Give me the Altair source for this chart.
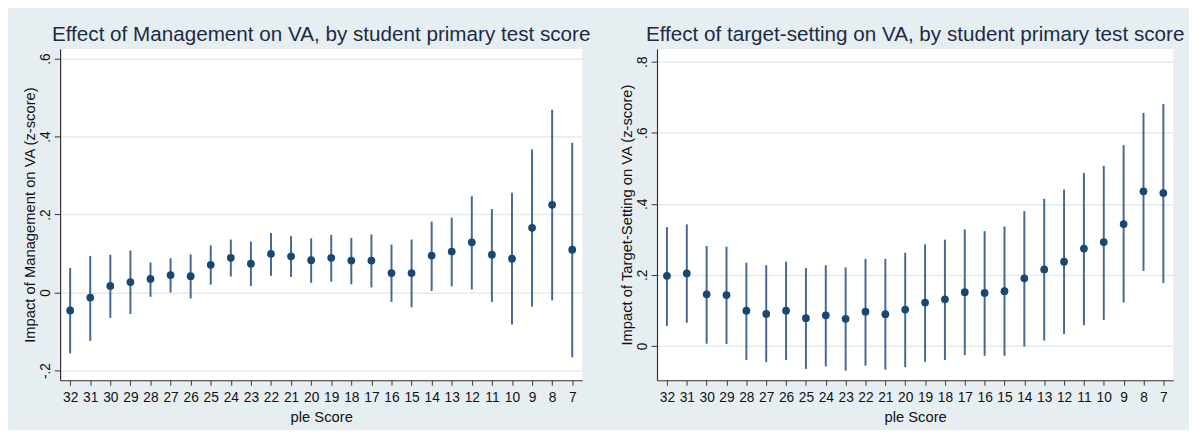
import altair as alt
import pandas as pd

scores = [32, 31, 30, 29, 28, 27, 26, 25, 24, 23, 22, 21, 20, 19, 18, 17, 16, 15, 14, 13, 12, 11, 10, 9, 8, 7]

mgmt_est = [-0.046, -0.013, 0.017, 0.027, 0.035, 0.045, 0.042, 0.071, 0.089, 0.074, 0.099, 0.093, 0.083,
            0.089, 0.082, 0.082, 0.050, 0.050, 0.095, 0.105, 0.129, 0.097, 0.087, 0.166, 0.225, 0.110]
mgmt_lo = [-0.156, -0.124, -0.065, -0.055, -0.011, 0.000, -0.015, 0.020, 0.041, 0.017, 0.043, 0.040, 0.025,
           0.028, 0.021, 0.013, -0.024, -0.038, 0.004, 0.016, 0.008, -0.024, -0.082, -0.036, -0.020, -0.166]
mgmt_hi = [0.063, 0.094, 0.097, 0.108, 0.077, 0.088, 0.098, 0.121, 0.136, 0.131, 0.153, 0.145, 0.139,
           0.148, 0.140, 0.149, 0.123, 0.136, 0.182, 0.192, 0.247, 0.214, 0.256, 0.367, 0.469, 0.384]

ts_est = [0.197, 0.204, 0.145, 0.143, 0.099, 0.090, 0.099, 0.078, 0.086, 0.076, 0.096, 0.089, 0.102,
          0.122, 0.131, 0.151, 0.149, 0.154, 0.190, 0.215, 0.237, 0.274, 0.292, 0.343, 0.435, 0.430]
ts_lo = [0.056, 0.065, 0.006, 0.005, -0.040, -0.046, -0.040, -0.065, -0.058, -0.070, -0.056, -0.067, -0.060,
         -0.045, -0.040, -0.026, -0.028, -0.028, -0.002, 0.015, 0.033, 0.058, 0.073, 0.122, 0.211, 0.177]
ts_hi = [0.334, 0.342, 0.281, 0.279, 0.234, 0.227, 0.237, 0.219, 0.227, 0.221, 0.245, 0.245, 0.262,
         0.286, 0.299, 0.328, 0.323, 0.336, 0.379, 0.414, 0.440, 0.487, 0.507, 0.565, 0.656, 0.681]

left_ticks = [-0.2, 0.0, 0.2, 0.4, 0.6]
left_tick_labels = ["-.2", "0", ".2", ".4", ".6"]
right_ticks = [0.0, 0.2, 0.4, 0.6, 0.8]
right_tick_labels = ["0", ".2", ".4", ".6", ".8"]

left_title = "Effect of Management on VA, by student primary test score"
right_title = "Effect of target-setting on VA, by student primary test score"
left_ytitle = "Impact of Management on VA (z-score)"
right_ytitle = "Impact of Target-Setting on VA (z-score)"
x_title = "ple Score"

FONT = "Liberation Sans"
DOT = "#1a476f"
BAR = "#46698f"
BG = "#e7eef1"
GRID = "#e4ebef"


def label_expr(ticks, labels):
    expr = "''"
    for t, l in zip(reversed(ticks), reversed(labels)):
        expr = f"abs(datum.value - ({t})) < 1e-6 ? '{l}' : ({expr})"
    return expr


def panel(est, lo, hi, domain, ticks, labels, title, ytitle, width, height):
    df = pd.DataFrame({"score": scores, "est": est, "lo": lo, "hi": hi})
    x = alt.X("score:O", sort=scores, title=x_title,
              scale=alt.Scale(type="point", padding=0.5),
              axis=alt.Axis(labelAngle=0, tickSize=5, labelPadding=6, titlePadding=5,
                            labelFontSize=14, titleFontSize=15, labelFont=FONT, titleFont=FONT,
                            titleFontWeight="normal", labelColor="#111", titleColor="#111",
                            domainColor="#333", tickColor="#333", grid=False, domainWidth=1.2))
    yax = alt.Axis(values=ticks, labelExpr=label_expr(ticks, labels), labelAngle=270,
                   labelAlign="center", labelBaseline="bottom", tickSize=6, labelPadding=2,
                   minExtent=22, maxExtent=22, titlePadding=1, labelFontSize=14,
                   titleFontSize=15, labelFont=FONT, titleFont=FONT, titleFontWeight="normal",
                   labelColor="#111", titleColor="#111", domainColor="#333", tickColor="#333",
                   grid=True, gridColor=GRID, gridWidth=1.5, domainWidth=1.2)
    sc = alt.Scale(domain=domain, nice=False, zero=False)
    y = alt.Y("est:Q", title=ytitle, scale=sc, axis=yax)
    base = alt.Chart(df)
    bars = base.mark_rule(color=BAR, strokeWidth=2).encode(
        x=x, y=alt.Y("lo:Q", scale=sc, axis=yax, title=ytitle), y2="hi:Q")
    pts = base.mark_circle(color=DOT, size=62, opacity=1).encode(x=x, y=y)
    return alt.layer(bars, pts).properties(
        width=width, height=height,
        title=alt.TitleParams(title, fontSize=21, font=FONT, fontWeight="normal", color="#1c2b45",
                              anchor="middle", frame="group", baseline="alphabetic", offset=-13))


left = panel(mgmt_est, mgmt_lo, mgmt_hi, [-0.225, 0.625], left_ticks, left_tick_labels,
             left_title, left_ytitle, 531, 337)
right = panel(ts_est, ts_lo, ts_hi, [-0.0969, 0.836], right_ticks, right_tick_labels,
              right_title, right_ytitle, 525, 337)

chart = alt.hconcat(left, right, spacing=29).properties(
    padding={"left": 15, "top": 13, "right": 4, "bottom": 2},
    background=BG,
).configure_view(stroke=None, fill="white")

chart.save("out.html", embed_options={"renderer": "svg", "actions": False})
